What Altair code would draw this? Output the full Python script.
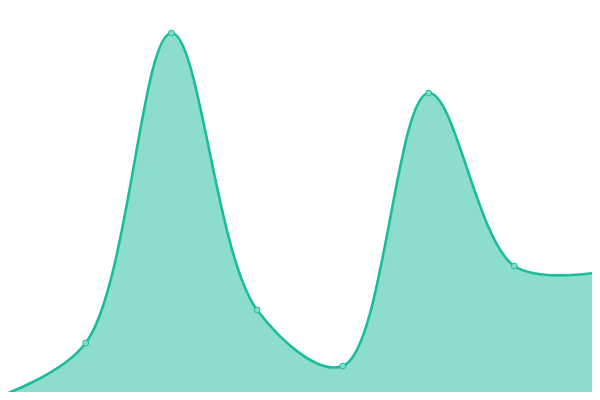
import altair as alt
import pandas as pd

idx = [0, 1, 2, 3, 4, 5, 6, 7]
values = [4, 57, 367, 90, 34, 307, 134, 128]

df = pd.DataFrame({"i": idx, "v": values})

x = alt.X("i:Q", axis=None, scale=alt.Scale(domain=[0, 7], range=[-8, 592], nice=False, zero=False))
y = alt.Y("v:Q", axis=None, scale=alt.Scale(domain=[0, 400], range=[392, -8], nice=False))

base = alt.Chart(df).encode(x=x, y=y)

area = base.mark_area(interpolate="catmull-rom", color="#1abc9c", opacity=0.5)
line = base.mark_line(interpolate="catmull-rom", color="#1abc9c", strokeWidth=2.6)
pts = base.mark_point(shape="circle", filled=True, fill="#86dcca", stroke="#1abc9c",
                      strokeWidth=1, size=34, opacity=1)

chart = (area + line + pts).properties(
    width=584, height=384, autosize=alt.AutoSizeParams(type="none"), padding=0
).configure_view(stroke=None)

chart.save("out.html", embed_options={"renderer": "svg", "actions": False})
